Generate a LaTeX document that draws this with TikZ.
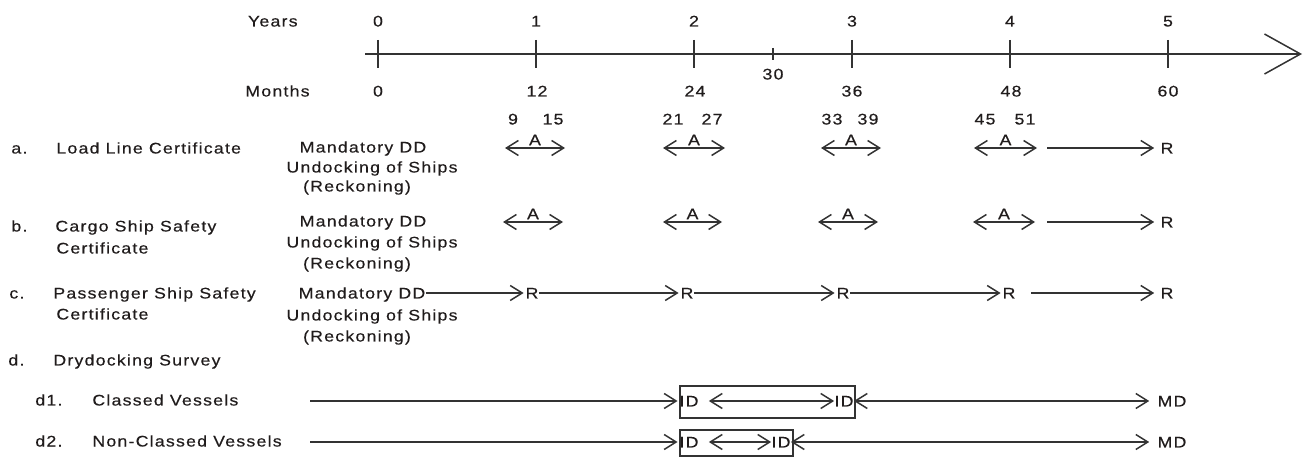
\documentclass[tikz,border=0pt]{standalone}
\usepackage{fontspec}
\setmainfont{Liberation Sans}[LetterSpace=8,FakeStretch=1.15,FakeBold=0.4]
\usepackage{tikz}
\usetikzlibrary{arrows.meta,positioning}
\definecolor{ink}{HTML}{201C1C}
\definecolor{rule}{HTML}{333333}

\begin{document}
\begin{tikzpicture}
[x=0.5pt,y=-0.5pt,
 txt/.style={font=\fontsize{7.7}{9}\selectfont,text=ink,inner sep=0pt,text height=5.5pt,text depth=0pt},
 lft/.style={txt,anchor=west},
 ln/.style={draw=rule,line width=0.75pt},
 tip/.style={ln,shorten >=0.8pt,-{Straight Barb[length=6pt,width=7.5pt]}},
 dbl/.style={ln,{Straight Barb[length=6pt,width=7.5pt]}-{Straight Barb[length=6pt,width=7.5pt]}}]
\useasboundingbox (0,0) rectangle (1310,458);

% time line
\coordinate (t0) at (365,54);
\coordinate (tend) at (1302,54);
\draw [ln,-{Straight Barb[length=18pt,width=20pt]}] (t0) -- (tend);
\draw [ln] (378,40) -- (378,68);
\draw [ln] (536,40) -- (536,68);
\draw [ln] (694,40) -- (694,68);
\draw [ln] (773,48) -- (773,60);
\draw [ln] (852,40) -- (852,68);
\draw [ln] (1010,40) -- (1010,68);
\draw [ln] (1168,40) -- (1168,68);

\node[txt,anchor=east] (years) at (298,21) {Years};
\node[txt] (y0) at (378,21) {0};
\node[txt] (y1) at (536,21) {1};
\node[txt] (y2) at (694,21) {2};
\node[txt] (y3) at (852,21) {3};
\node[txt] (y4) at (1010,21) {4};
\node[txt] (y5) at (1168,21) {5};

\node[txt,anchor=east] (months) at (310,91) {Months};
\node[txt] (m0) at (378,91) {0};
\node[txt] (m12) at (537,91) {12};
\node[txt] (m24) at (695,91) {24};
\node[txt] (m30) at (773,74) {30};
\node[txt] (m36) at (852,91) {36};
\node[txt] (m48) at (1011,91) {48};
\node[txt] (m60) at (1168,91) {60};

\node[txt] (w9) at (513,119) {9};
\node[txt] (w15) at (553,119) {15};
\node[txt] (w21) at (673,119) {21};
\node[txt] (w27) at (712,119) {27};
\node[txt] (w33) at (832,119) {33};
\node[txt] (w39) at (868,119) {39};
\node[txt] (w45) at (985,119) {45};
\node[txt] (w51) at (1025,119) {51};

% a. load line
\node[lft] (la) at (11,148) {a.};
\node[lft] (loadline) at (56,148) {Load Line Certificate};
\node[txt] (mdda) at (363,147) {Mandatory DD};
\node[txt] (unda) at (372,167) {Undocking of Ships};
\node[txt] (reca) at (357,186) {(Reckoning)};

\coordinate (a1l) at (505,148); \coordinate (a1r) at (565,148);
\coordinate (a2l) at (663,148); \coordinate (a2r) at (725,148);
\coordinate (a3l) at (821,148); \coordinate (a3r) at (881,148);
\coordinate (a4l) at (974,148); \coordinate (a4r) at (1037,148);
\coordinate (aRs) at (1047,148);
\node[txt] (ra) at (1167,148) {R};

\draw [dbl] (a1l) -- node[txt,anchor=south,yshift=1pt] (aa1) {A} (a1r);
\draw [dbl] (a2l) -- node[txt,anchor=south,yshift=1pt] (aa2) {A} (a2r);
\draw [dbl] (a3l) -- node[txt,anchor=south,yshift=1pt] (aa3) {A} (a3r);
\draw [dbl] (a4l) -- node[txt,anchor=south,yshift=1pt] (aa4) {A} (a4r);
\draw [tip,shorten >=3pt] (aRs) -- (ra);

% b. cargo ship safety
\node[lft] (lb) at (11,226) {b.};
\node[lft] (cargo) at (55,226) {Cargo Ship Safety};
\node[lft] (certb) at (56,248) {Certificate};
\node[txt] (mddb) at (363,221) {Mandatory DD};
\node[txt] (undb) at (372,242) {Undocking of Ships};
\node[txt] (recb) at (357,263) {(Reckoning)};

\coordinate (b1l) at (503,222); \coordinate (b1r) at (563,222);
\coordinate (b2l) at (663,222); \coordinate (b2r) at (722,222);
\coordinate (b3l) at (818,222); \coordinate (b3r) at (878,222);
\coordinate (b4l) at (973,222); \coordinate (b4r) at (1035,222);
\coordinate (bRs) at (1047,222);
\node[txt] (rb) at (1167,222) {R};

\draw [dbl] (b1l) -- node[txt,anchor=south,yshift=1pt] (ab1) {A} (b1r);
\draw [dbl] (b2l) -- node[txt,anchor=south,yshift=1pt] (ab2) {A} (b2r);
\draw [dbl] (b3l) -- node[txt,anchor=south,yshift=1pt] (ab3) {A} (b3r);
\draw [dbl] (b4l) -- node[txt,anchor=south,yshift=1pt] (ab4) {A} (b4r);
\draw [tip,shorten >=3pt] (bRs) -- (rb);

% c. passenger ship safety
\node[lft] (lc) at (9,293) {c.};
\node[lft] (passenger) at (53,293) {Passenger Ship Safety};
\node[lft] (certc) at (56,314) {Certificate};
\node[txt] (mddc) at (362,293) {Mandatory DD};
\node[txt] (undc) at (372,315) {Undocking of Ships};
\node[txt] (recc) at (357,336) {(Reckoning)};

\node[txt] (rc1) at (532,293) {R};
\node[txt] (rc2) at (687,293) {R};
\node[txt] (rc3) at (843,293) {R};
\node[txt] (rc4) at (1009,293) {R};
\coordinate (c5s) at (1031,293);
\node[txt] (rc5) at (1167,293) {R};

\draw [tip] (mddc) -- (rc1);
\draw [tip] (rc1) -- (rc2);
\draw [tip] (rc2) -- (rc3);
\draw [tip] (rc3) -- (rc4);
\draw [tip,shorten >=3pt] (c5s) -- (rc5);

% d. drydocking survey
\node[lft] (ld) at (8,360) {d.};
\node[lft] (drydock) at (53,360) {Drydocking Survey};

\node[lft] (ld1) at (35,400) {d1.};
\node[lft] (classed) at (92,400) {Classed Vessels};
\coordinate (d1s) at (310,401);
\node[txt] (ida) at (689,401) {ID};
\node[txt] (idb) at (844,401) {ID};
\node[txt] (mda) at (1172,401) {MD};
\draw [ln] (680,386) rectangle (855,418);
\draw [tip] (d1s) -- (ida);
\draw [dbl,shorten <=5pt] (ida) -- (idb);
\draw [dbl,shorten >=4pt] (idb) -- (mda);

\node[lft] (ld2) at (35,441) {d2.};
\node[lft] (nonclassed) at (92,441) {Non-Classed Vessels};
\coordinate (d2s) at (310,442);
\node[txt] (idc) at (689,442) {ID};
\node[txt] (idd) at (781,442) {ID};
\node[txt] (mdb) at (1172,442) {MD};
\draw [ln] (680,430) rectangle (793,456);
\draw [tip] (d2s) -- (idc);
\draw [dbl,shorten <=5pt] (idc) -- (idd);
\draw [dbl,shorten >=4pt] (idd) -- (mdb);
\end{tikzpicture}
\end{document}
